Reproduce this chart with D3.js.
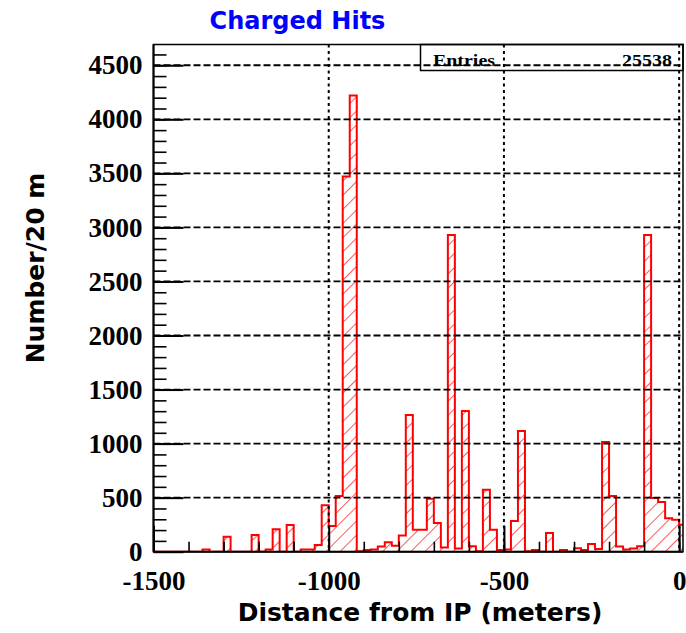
<!DOCTYPE html>
<html>
<head>
<meta charset="utf-8">
<script src="https://cdn.jsdelivr.net/npm/d3@7"></script>
<style>
  body { margin: 0; background: #fff; }
  svg { display: block; }
</style>
</head>
<body>
<svg id="chart" width="686" height="633"></svg>
<script>
// histogram: 20 m bins starting at -1500 m (distance from IP)
var binStart = -1500;
var binWidth = 20;
var counts = [
  0, 0, 0, 0, 0, 0, 0, 20, 0, 0,
  139, 0, 0, 0, 154, 0, 20, 207, 0, 247,
  0, 20, 20, 62, 429, 237, 515, 3470, 4220, 5,
  16, 20, 47, 87, 56, 150, 1265, 203, 203, 490,
  266, 40, 2930, 30, 1302, 50, 5, 572, 203, 15,
  20, 284, 1117, 5, 16, 0, 172, 0, 16, 0,
  31, 16, 72, 25, 1015, 515, 47, 20, 30, 50,
  2930, 497, 460, 310, 295, 250
];
var yTicks = [0, 500, 1000, 1500, 2000, 2500, 3000, 3500, 4000, 4500];
var xTicks = [-1500, -1000, -500, 0];
var entries = '25538';

var svg = d3.select('#chart');

// frame in pixels (note: "top" is taken by window.top, so use other names)
var fLeft = 153.5, fRight = 683, fTop = 44.5, fBottom = 551.7;

var x = d3.scaleLinear().domain([-1500, 11]).range([fLeft, fRight]);
var y = d3.scaleLinear().domain([0, 4692]).range([fBottom, fTop]);

// hatch pattern, red "/" lines
var defs = svg.append('defs');
defs.append('pattern')
  .attr('id', 'hatch')
  .attr('patternUnits', 'userSpaceOnUse')
  .attr('width', 10)
  .attr('height', 10)
  .attr('patternTransform', 'rotate(45)')
  .append('line')
  .attr('x1', 0).attr('y1', 0)
  .attr('x2', 0).attr('y2', 10)
  .attr('stroke', '#ff0000')
  .attr('stroke-width', 1.3);

defs.append('clipPath')
  .attr('id', 'frame-clip')
  .append('rect')
  .attr('x', fLeft).attr('y', fTop)
  .attr('width', fRight - fLeft).attr('height', fBottom - fTop);

// step points for the histogram
var pts = counts.map(function (c, i) { return [binStart + i * binWidth, c]; });
pts.push([binStart + counts.length * binWidth, counts[counts.length - 1]]);

var area = d3.area()
  .x(function (d) { return x(d[0]); })
  .y0(y(0))
  .y1(function (d) { return y(d[1]); })
  .curve(d3.curveStepAfter);

var line = d3.line()
  .x(function (d) { return x(d[0]); })
  .y(function (d) { return y(d[1]); })
  .curve(d3.curveStepAfter);

var gHist = svg.append('g').attr('clip-path', 'url(#frame-clip)');
gHist.append('path')
  .datum(pts)
  .attr('d', area)
  .attr('fill', 'url(#hatch)');
gHist.append('path')
  .datum(pts)
  .attr('d', line)
  .attr('fill', 'none')
  .attr('stroke', '#ff0000')
  .attr('stroke-width', 2);

// grid: dashed horizontals, dotted verticals
var gGrid = svg.append('g');
gGrid.selectAll('.hgrid')
  .data(yTicks.filter(function (d) { return d > 0; }))
  .enter().append('line')
  .attr('class', 'hgrid')
  .attr('x1', fLeft).attr('x2', fRight)
  .attr('y1', function (d) { return y(d); })
  .attr('y2', function (d) { return y(d); })
  .attr('stroke', '#000')
  .attr('stroke-width', 1.8)
  .attr('stroke-dasharray', '7,3');
gGrid.selectAll('.vgrid')
  .data(xTicks.filter(function (d) { return d > -1500; }))
  .enter().append('line')
  .attr('class', 'vgrid')
  .attr('y1', fTop).attr('y2', fBottom)
  .attr('x1', function (d) { return x(d); })
  .attr('x2', function (d) { return x(d); })
  .attr('stroke', '#000')
  .attr('stroke-width', 2)
  .attr('stroke-dasharray', '3,3.5');

// axes, ticks pointing inside the frame
function styleAxis(g, w) {
  g.select('.domain').remove();
  g.selectAll('.tick line').attr('stroke', '#000').attr('stroke-width', w);
  g.selectAll('.tick text')
    .attr('fill', '#000')
    .style('font-family', '"Liberation Serif", serif')
    .style('font-weight', 'bold')
    .style('font-size', '27px');
}

svg.append('g')
  .attr('transform', 'translate(' + fLeft + ',0)')
  .call(d3.axisLeft(y).tickValues(d3.range(0, 4692, 100)).tickSize(-13).tickFormat(''))
  .call(styleAxis, 1.6);
svg.append('g')
  .attr('transform', 'translate(' + fLeft + ',0)')
  .call(d3.axisLeft(y).tickValues(yTicks).tickSize(-30).tickPadding(11)
    .tickFormat(function (d) { return String(d); }))
  .call(styleAxis, 2);

svg.append('g')
  .attr('transform', 'translate(0,' + fBottom + ')')
  .call(d3.axisBottom(x).tickValues(d3.range(-1500, 1, 100)).tickSize(-10).tickFormat(''))
  .call(styleAxis, 1.6);
svg.append('g')
  .attr('transform', 'translate(0,' + fBottom + ')')
  .call(d3.axisBottom(x).tickValues(xTicks).tickSize(-26).tickPadding(19)
    .tickFormat(function (d) { return String(d); }))
  .call(styleAxis, 2);

// frame
svg.append('rect')
  .attr('x', fLeft).attr('y', fTop)
  .attr('width', fRight - fLeft).attr('height', fBottom - fTop)
  .attr('fill', 'none')
  .attr('stroke', '#000')
  .attr('stroke-width', 1.5);
svg.append('line')
  .attr('x1', fLeft).attr('x2', fLeft).attr('y1', fTop).attr('y2', fBottom)
  .attr('stroke', '#000').attr('stroke-width', 2);
svg.append('line')
  .attr('x1', fLeft).attr('x2', fRight).attr('y1', fBottom).attr('y2', fBottom)
  .attr('stroke', '#000').attr('stroke-width', 2);

// stats box
var statsX = 420.5, statsY = 70.5;
svg.append('rect')
  .attr('x', statsX).attr('y', fTop)
  .attr('width', fRight - statsX).attr('height', statsY - fTop)
  .attr('fill', 'none')
  .attr('stroke', '#000')
  .attr('stroke-width', 1.5);
svg.append('text')
  .attr('x', 433).attr('y', 66)
  .attr('textLength', 62).attr('lengthAdjust', 'spacingAndGlyphs')
  .style('font-family', '"Liberation Serif", serif')
  .style('font-weight', 'bold')
  .style('font-size', '17px')
  .text('Entries');
svg.append('text')
  .attr('x', 672).attr('y', 66)
  .attr('text-anchor', 'end')
  .attr('textLength', 50).attr('lengthAdjust', 'spacingAndGlyphs')
  .style('font-family', '"Liberation Serif", serif')
  .style('font-weight', 'bold')
  .style('font-size', '17px')
  .text(entries);

// titles
svg.append('text')
  .attr('x', 297.5).attr('y', 29)
  .attr('text-anchor', 'middle')
  .attr('fill', '#0000ff')
  .style('font-family', '"DejaVu Sans", sans-serif')
  .style('font-weight', 'bold')
  .style('font-size', '24px')
  .text('Charged Hits');

svg.append('text')
  .attr('x', 420).attr('y', 621)
  .attr('text-anchor', 'middle')
  .style('font-family', '"DejaVu Sans", sans-serif')
  .style('font-weight', 'bold')
  .style('font-size', '25px')
  .text('Distance from IP (meters)');

svg.append('text')
  .attr('transform', 'translate(44,268) rotate(-90)')
  .attr('text-anchor', 'middle')
  .style('font-family', '"DejaVu Sans", sans-serif')
  .style('font-weight', 'bold')
  .style('font-size', '25px')
  .text('Number/20 m');
</script>
</body>
</html>
